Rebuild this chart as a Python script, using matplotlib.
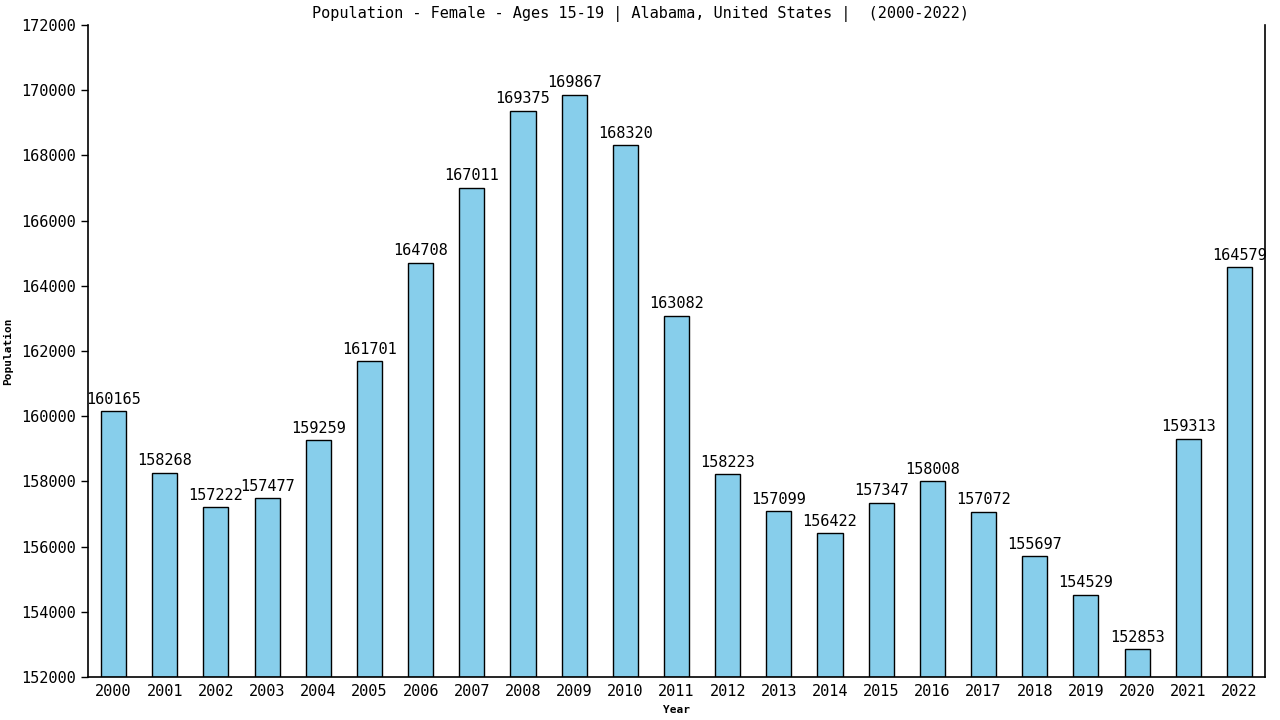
import matplotlib
matplotlib.use("Agg")
import matplotlib.pyplot as plt

# data
years = [str(y) for y in range(2000, 2023)]
population = [160165, 158268, 157222, 157477, 159259, 161701, 164708, 167011,
              169375, 169867, 168320, 163082, 158223, 157099, 156422, 157347,
              158008, 157072, 155697, 154529, 152853, 159313, 164579]
y_ticks = list(range(152000, 172001, 2000))

plt.rcParams['font.family'] = ['DejaVu Sans Mono']

fig = plt.figure(figsize=(12.8, 7.2), dpi=100)
ax = fig.add_axes([0.06875, 0.0597, 0.91953, 0.9056])

x = list(range(len(years)))
ax.bar(x, [p - 152000 for p in population], bottom=152000, width=0.49,
       color='#87CEEB', edgecolor='black', linewidth=1)

for xi, p in zip(x, population):
    ax.text(xi, p + 130, str(p), ha='center', va='bottom', fontsize=11)

ax.set_xlim(-0.5, 22.5)
ax.set_ylim(152000, 172000)
ax.set_xticks(x)
ax.set_xticklabels(years, fontsize=11)
ax.set_yticks(y_ticks)
ax.set_yticklabels([str(t) for t in y_ticks], fontsize=11)
ax.tick_params(axis='x', length=0, pad=5)
ax.tick_params(axis='y', length=5, width=1)

ax.spines['top'].set_visible(False)
for s in ['left', 'right', 'bottom']:
    ax.spines[s].set_linewidth(1.2)

ax.set_xlabel('Year', fontsize=8, fontweight='bold', labelpad=4)
ax.set_ylabel('Population', fontsize=8, fontweight='bold', labelpad=6)
fig.text(0.5, 0.981, 'Population - Female - Ages 15-19 | Alabama, United States |  (2000-2022)',
         ha='center', va='center', fontsize=11)

fig.savefig('out.png', dpi=100)
